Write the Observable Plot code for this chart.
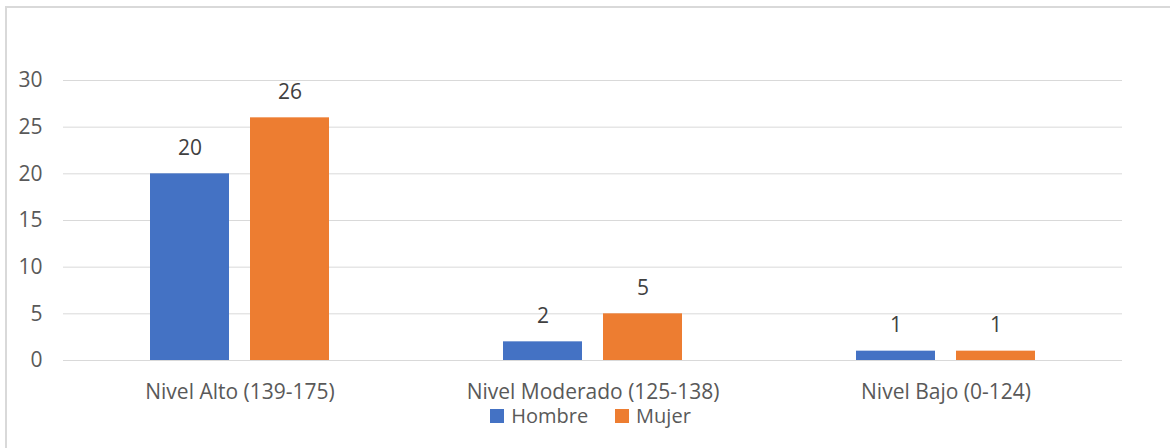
<!DOCTYPE html>
<html>
<head>
<meta charset="utf-8">
<script src="https://cdn.jsdelivr.net/npm/d3@7"></script>
<script src="https://cdn.jsdelivr.net/npm/@observablehq/plot@0.6"></script>
<style>
  html, body { margin: 0; padding: 0; background: #fff; }
  #wrap { position: relative; width: 1170px; height: 448px; overflow: hidden; font-family: "Open Sans", sans-serif; }
  #frame { position: absolute; left: 5px; top: 6px; right: -4px; bottom: -4px; border-left: 2px solid #d9d9d9; border-top: 2px solid #d9d9d9; }
  #chart { position: absolute; left: 0; top: 0; }
  #legend { position: absolute; left: 0; top: 402px; width: 1170px; display: flex; justify-content: center; padding-left: 38px; box-sizing: border-box; }
  .lg-swatch { margin-right: 27px !important; }
  .lg-swatch > svg { margin-right: 7px !important; }
</style>
</head>
<body>
<div id="wrap">
  <div id="frame"></div>
  <div id="chart"></div>
  <div id="legend"></div>
</div>
<script>
// Score levels by sex
const niveles = ["Nivel Alto (139-175)", "Nivel Moderado (125-138)", "Nivel Bajo (0-124)"];
const series = ["Hombre", "Mujer"];
const hombre = [20, 2, 1];
const mujer = [26, 5, 1];
const colores = ["#4472C4", "#ED7D31"];
const yTicks = [0, 5, 10, 15, 20, 25, 30];

const valores = {Hombre: hombre, Mujer: mujer};
const data = niveles.flatMap((nivel, i) =>
  series.map(sexo => ({nivel, sexo, valor: valores[sexo][i]}))
);

const plot = Plot.plot({
  width: 1170,
  height: 448,
  marginLeft: 63,
  marginRight: 48,
  marginTop: 80,
  marginBottom: 88,
  style: {fontFamily: "Open Sans", fontSize: "21px", color: "#595959", background: "transparent"},
  fx: {domain: niveles, padding: 0, axis: "bottom", label: null, tickSize: 0, tickPadding: 24},
  x: {domain: series, axis: null, paddingInner: 0.21, paddingOuter: 0.87},
  y: {domain: [0, 30], ticks: yTicks, tickSize: 0, tickPadding: 21, label: null},
  color: {domain: series, range: colores},
  marks: [
    Plot.ruleY(yTicks, {stroke: "#d9d9d9", strokeWidth: 1}),
    Plot.barY(data, {fx: "nivel", x: "sexo", y: "valor", fill: "sexo"}),
    Plot.text(data, {fx: "nivel", x: "sexo", y: "valor", text: d => String(d.valor), dy: -26, fill: "#404040", fontSize: 21})
  ]
});
document.getElementById("chart").append(plot);

const legend = plot.legend("color", {
  className: "lg",
  swatchSize: 14,
  style: {fontFamily: "Open Sans", fontSize: "20px", color: "#595959", minHeight: "24px"}
});
document.getElementById("legend").append(legend);
</script>
</body>
</html>
